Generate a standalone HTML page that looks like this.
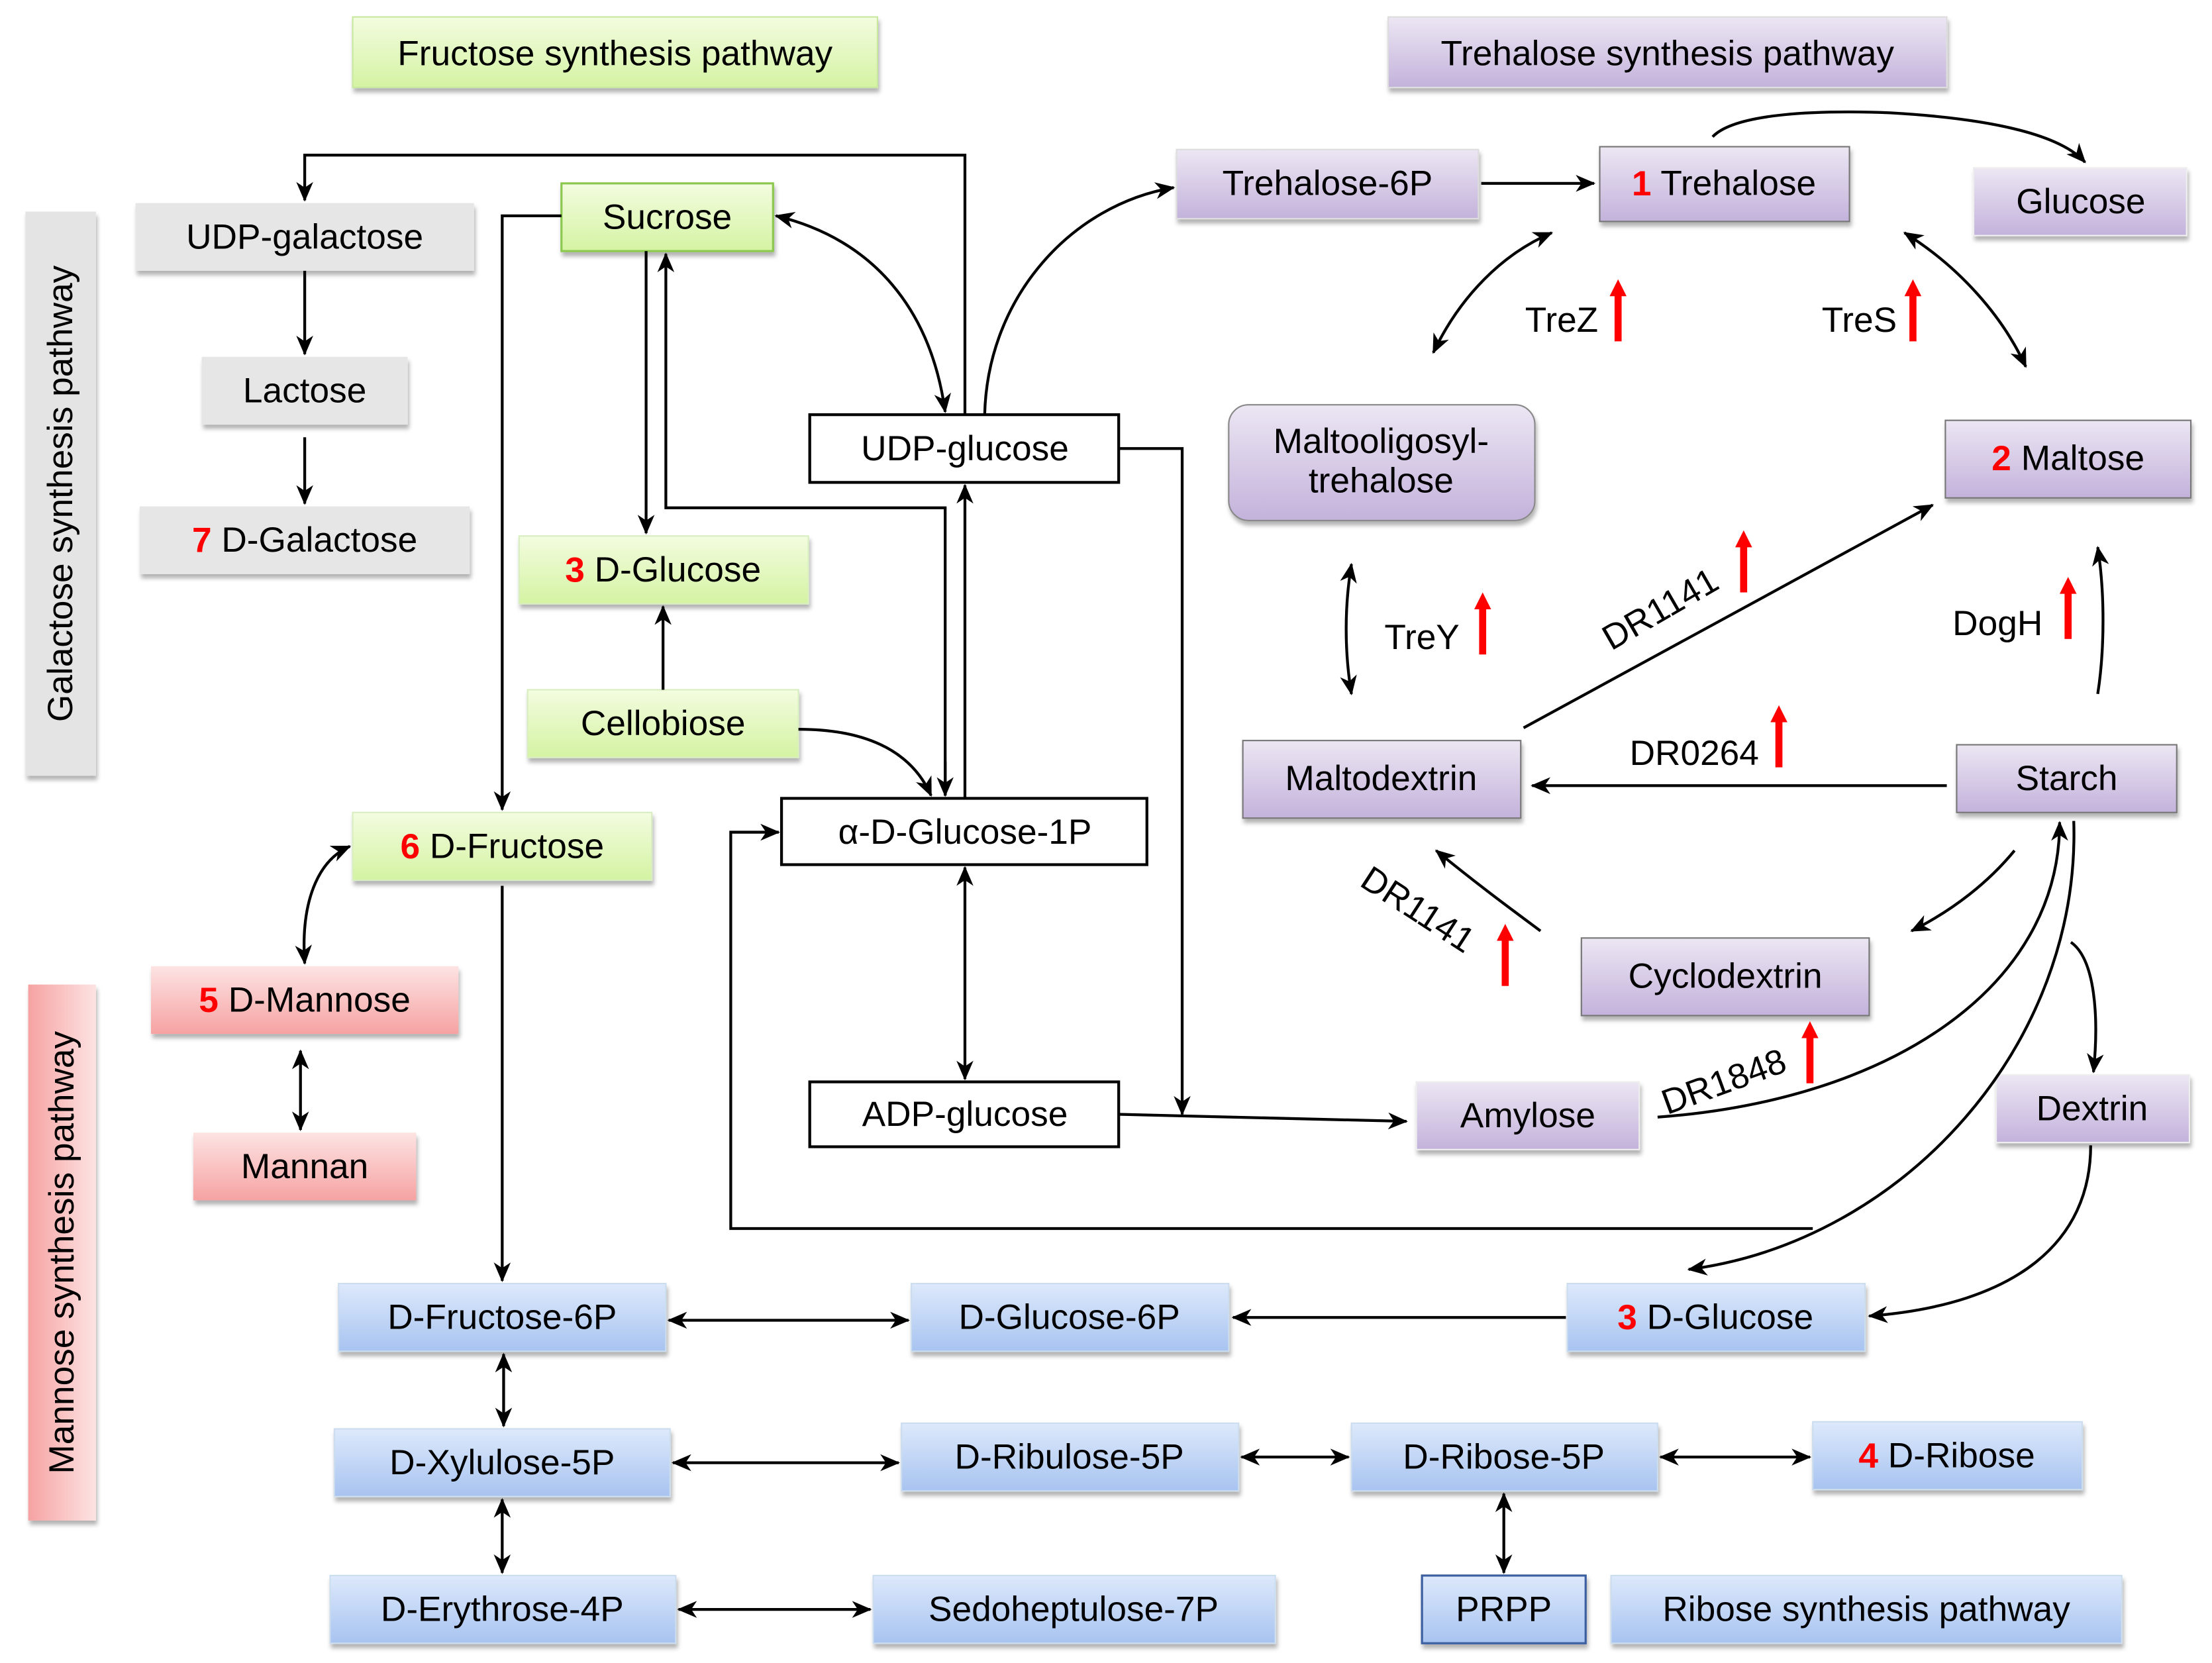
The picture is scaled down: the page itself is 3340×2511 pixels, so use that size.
<!DOCTYPE html>
<html><head><meta charset="utf-8"><style>
html,body{margin:0;padding:0;background:#fff}
svg{display:block}
text{font-family:"Liberation Sans Narrow","Liberation Sans",sans-serif;font-size:25px;fill:#000}
.r{fill:#f00;font-weight:bold}
.l{stroke:#000;stroke-width:2;fill:none}
</style></head><body>
<svg width="3340" height="2511" viewBox="0 0 1568 1179" preserveAspectRatio="none">
<defs>
<linearGradient id="gG" x1="0" y1="0" x2="0" y2="1"><stop offset="0" stop-color="#f3fce0"/><stop offset="1" stop-color="#d4f3a2"/></linearGradient>
<linearGradient id="gP" x1="0" y1="0" x2="0" y2="1"><stop offset="0" stop-color="#ece6f3"/><stop offset="1" stop-color="#c3b2db"/></linearGradient>
<linearGradient id="gB" x1="0" y1="0" x2="0" y2="1"><stop offset="0" stop-color="#dde9fb"/><stop offset="1" stop-color="#a7c3f0"/></linearGradient>
<linearGradient id="gR" x1="0" y1="0" x2="0" y2="1"><stop offset="0" stop-color="#fde3e3"/><stop offset="1" stop-color="#f6a2a2"/></linearGradient>
<linearGradient id="gRh" x1="0" y1="0" x2="1" y2="0"><stop offset="0" stop-color="#f6a2a2"/><stop offset="1" stop-color="#fde3e3"/></linearGradient>
<marker id="a" viewBox="0 0 14 12" refX="13" refY="6" markerWidth="14" markerHeight="12" markerUnits="userSpaceOnUse" orient="auto-start-reverse"><path d="M0,0 L14,6 L0,12 L4,6 z" fill="#000"/></marker>
<filter id="sh" x="-5%" y="-10%" width="115%" height="140%"><feDropShadow dx="1" dy="3" stdDeviation="1.5" flood-color="#000" flood-opacity="0.3"/></filter>
<g id="red"><rect x="-2.5" y="-32" width="5" height="34" fill="#f00"/><path d="M-6,-30 L0,-42 L6,-30 z" fill="#f00"/></g>
</defs>

<g filter="url(#sh)">
<rect x="250" y="12" width="372" height="50" fill="url(#gG)" stroke="#c8e8a0"/>
<rect x="984" y="12" width="396" height="50" fill="url(#gP)" stroke="#ddd"/>
<rect x="18" y="150" width="50" height="400" fill="#e4e4e4"/>
<rect x="20" y="698" width="48" height="380" fill="url(#gRh)"/>
</g>
<text x="436" y="38" text-anchor="middle" dominant-baseline="central">Fructose synthesis pathway</text>
<text x="1182" y="38" text-anchor="middle" dominant-baseline="central">Trehalose synthesis pathway</text>
<text transform="translate(43,350) rotate(-90)" text-anchor="middle" dominant-baseline="central">Galactose synthesis pathway</text>
<text transform="translate(44,888) rotate(-90)" text-anchor="middle" dominant-baseline="central">Mannose synthesis pathway</text>

<g filter="url(#sh)">
<rect x="96" y="144" width="240" height="48" fill="#e6e6e6"/>
<rect x="143" y="253" width="146" height="48" fill="#e6e6e6"/>
<rect x="99" y="359" width="234" height="48" fill="#e6e6e6"/>
<rect x="398" y="130" width="150" height="48" fill="url(#gG)" stroke="#8cc850" stroke-width="1.5"/>
<rect x="368" y="380" width="205" height="48" fill="url(#gG)" stroke="#d8eec0"/>
<rect x="374" y="489" width="192" height="48" fill="url(#gG)" stroke="#d8eec0"/>
<rect x="250" y="576" width="212" height="48" fill="url(#gG)" stroke="#d8eec0"/>
<rect x="107" y="685" width="218" height="48" fill="url(#gR)"/>
<rect x="137" y="803" width="158" height="48" fill="url(#gR)"/>
<rect x="834" y="106" width="214" height="49" fill="url(#gP)" stroke="#ddd"/>
<rect x="1134" y="104" width="177" height="53" fill="url(#gP)" stroke="#777"/>
<rect x="1399" y="119" width="151" height="48" fill="url(#gP)" stroke="#eee"/>
<rect x="871" y="287" width="217" height="82" rx="14" fill="url(#gP)" stroke="#888"/>
<rect x="1379" y="298" width="174" height="55" fill="url(#gP)" stroke="#777"/>
<rect x="881" y="525" width="197" height="55" fill="url(#gP)" stroke="#777"/>
<rect x="1387" y="528" width="156" height="48" fill="url(#gP)" stroke="#777"/>
<rect x="1121" y="665" width="204" height="55" fill="url(#gP)" stroke="#777"/>
<rect x="1004" y="767" width="158" height="48" fill="url(#gP)" stroke="#eee"/>
<rect x="1415" y="762" width="137" height="48" fill="url(#gP)" stroke="#eee"/>
<rect x="240" y="910" width="232" height="48" fill="url(#gB)" stroke="#cde"/>
<rect x="646" y="910" width="225" height="48" fill="url(#gB)" stroke="#cde"/>
<rect x="1111" y="910" width="211" height="48" fill="url(#gB)" stroke="#cde"/>
<rect x="237" y="1013" width="238" height="48" fill="url(#gB)" stroke="#cde"/>
<rect x="639" y="1009" width="239" height="48" fill="url(#gB)" stroke="#cde"/>
<rect x="958" y="1009" width="217" height="48" fill="url(#gB)" stroke="#cde"/>
<rect x="1285" y="1008" width="191" height="48" fill="url(#gB)" stroke="#cde"/>
<rect x="234" y="1117" width="245" height="48" fill="url(#gB)" stroke="#cde"/>
<rect x="619" y="1117" width="285" height="48" fill="url(#gB)" stroke="#cde"/>
<rect x="1008" y="1117" width="116" height="48" fill="url(#gB)" stroke="#3a5ea0" stroke-width="1.5"/>
<rect x="1142" y="1117" width="362" height="48" fill="url(#gB)" stroke="#cde"/>
</g>
<g fill="#fff" stroke="#000" stroke-width="2">
<rect x="574" y="294" width="219" height="48"/>
<rect x="554" y="566" width="259" height="47"/>
<rect x="574" y="767" width="219" height="46"/>
</g>

<g text-anchor="middle" dominant-baseline="central">
<text x="216" y="168">UDP-galactose</text>
<text x="216" y="277">Lactose</text>
<text x="216" y="383"><tspan class="r">7</tspan> D-Galactose</text>
<text x="473" y="154">Sucrose</text>
<text x="470" y="404"><tspan class="r">3</tspan> D-Glucose</text>
<text x="470" y="513">Cellobiose</text>
<text x="356" y="600"><tspan class="r">6</tspan> D-Fructose</text>
<text x="216" y="709"><tspan class="r">5</tspan> D-Mannose</text>
<text x="216" y="827">Mannan</text>
<text x="684" y="318">UDP-glucose</text>
<text x="684" y="590">α-D-Glucose-1P</text>
<text x="684" y="790">ADP-glucose</text>
<text x="941" y="130">Trehalose-6P</text>
<text x="1222" y="130"><tspan class="r">1</tspan> Trehalose</text>
<text x="1475" y="143">Glucose</text>
<text x="979" y="313">Maltooligosyl-</text>
<text x="979" y="341">trehalose</text>
<text x="1466" y="325"><tspan class="r">2</tspan> Maltose</text>
<text x="979" y="552">Maltodextrin</text>
<text x="1465" y="552">Starch</text>
<text x="1223" y="692">Cyclodextrin</text>
<text x="1083" y="791">Amylose</text>
<text x="1483" y="786">Dextrin</text>
<text x="356" y="934">D-Fructose-6P</text>
<text x="758" y="934">D-Glucose-6P</text>
<text x="1216" y="934"><tspan class="r">3</tspan> D-Glucose</text>
<text x="356" y="1037">D-Xylulose-5P</text>
<text x="758" y="1033">D-Ribulose-5P</text>
<text x="1066" y="1033">D-Ribose-5P</text>
<text x="1380" y="1032"><tspan class="r">4</tspan> D-Ribose</text>
<text x="356" y="1141">D-Erythrose-4P</text>
<text x="761" y="1141">Sedoheptulose-7P</text>
<text x="1066" y="1141">PRPP</text>
<text x="1323" y="1141">Ribose synthesis pathway</text>
</g>

<g class="l">
<path d="M684,294 V110 H216 V142" marker-end="url(#a)"/>
<path d="M216,192 V251" marker-end="url(#a)"/>
<path d="M216,310 V357" marker-end="url(#a)"/>
<path d="M398,153 H356 V574" marker-end="url(#a)"/>
<path d="M458,178 V378" marker-end="url(#a)"/>
<path d="M670,564 V360 H472 V180" marker-end="url(#a)"/>
<path d="M670,540 V564" marker-end="url(#a)"/>
<path d="M684,566 V344" marker-end="url(#a)"/>
<path d="M550,153 C620,170 660,220 670,292" marker-start="url(#a)" marker-end="url(#a)"/>
<path d="M698,294 C700,210 760,145 832,133" marker-end="url(#a)"/>
<path d="M793,318 H838 V790" marker-end="url(#a)"/>
<path d="M470,489 V430" marker-end="url(#a)"/>
<path d="M566,517 C610,517 645,530 660,564" marker-end="url(#a)"/>
<path d="M684,615 V765" marker-start="url(#a)" marker-end="url(#a)"/>
<path d="M793,790 L997,795" marker-end="url(#a)"/>
<path d="M248,600 C225,610 213,640 216,683" marker-start="url(#a)" marker-end="url(#a)"/>
<path d="M213,745 V801" marker-start="url(#a)" marker-end="url(#a)"/>
<path d="M356,628 V908" marker-end="url(#a)"/>
<path d="M1285,871 H518 V590 H552" marker-end="url(#a)"/>
<path d="M1470,582 C1475,740 1350,880 1197,900" marker-end="url(#a)"/>
<path d="M1175,792 C1340,780 1460,700 1460,583" marker-end="url(#a)"/>
<path d="M1428,603 C1410,625 1385,645 1355,660" marker-end="url(#a)"/>
<path d="M1468,668 C1485,680 1488,720 1484,760" marker-end="url(#a)"/>
<path d="M1482,812 C1482,880 1430,925 1325,933" marker-end="url(#a)"/>
<path d="M1092,660 C1065,640 1045,625 1018,603" marker-end="url(#a)"/>
<path d="M1380,557 H1086" marker-end="url(#a)"/>
<path d="M1487,492 C1492,460 1492,420 1487,388" marker-end="url(#a)"/>
<path d="M1080,516 L1370,358" marker-end="url(#a)"/>
<path d="M958,400 C953,430 953,462 958,492" marker-start="url(#a)" marker-end="url(#a)"/>
<path d="M1016,250 C1035,210 1065,180 1100,165" marker-start="url(#a)" marker-end="url(#a)"/>
<path d="M1350,165 C1390,190 1420,225 1436,260" marker-start="url(#a)" marker-end="url(#a)"/>
<path d="M1050,130 H1130" marker-end="url(#a)"/>
<path d="M1214,97 C1230,80 1290,78 1340,80 C1410,84 1460,95 1478,115" marker-end="url(#a)"/>
<path d="M1110,934 H874" marker-end="url(#a)"/>
<path d="M474,936 H644" marker-start="url(#a)" marker-end="url(#a)"/>
<path d="M357,960 V1011" marker-start="url(#a)" marker-end="url(#a)"/>
<path d="M477,1037 H637" marker-start="url(#a)" marker-end="url(#a)"/>
<path d="M880,1033 H956" marker-start="url(#a)" marker-end="url(#a)"/>
<path d="M1177,1033 H1283" marker-start="url(#a)" marker-end="url(#a)"/>
<path d="M1066,1059 V1115" marker-start="url(#a)" marker-end="url(#a)"/>
<path d="M356,1063 V1115" marker-start="url(#a)" marker-end="url(#a)"/>
<path d="M481,1141 H617" marker-start="url(#a)" marker-end="url(#a)"/>
</g>

<text x="1107" y="227" text-anchor="middle" dominant-baseline="central">TreZ</text>
<text x="1318" y="227" text-anchor="middle" dominant-baseline="central">TreS</text>
<text x="1008" y="452" text-anchor="middle" dominant-baseline="central">TreY</text>
<text x="1416" y="442" text-anchor="middle" dominant-baseline="central">DogH</text>
<text x="1201" y="534" text-anchor="middle" dominant-baseline="central">DR0264</text>
<text transform="translate(1177,432) rotate(-30)" text-anchor="middle" dominant-baseline="central">DR1141</text>
<text transform="translate(1005,645) rotate(33)" text-anchor="middle" dominant-baseline="central">DR1141</text>
<text transform="translate(1222,767) rotate(-20)" text-anchor="middle" dominant-baseline="central">DR1848</text>
<use href="#red" x="1147" y="240"/>
<use href="#red" x="1356" y="240"/>
<use href="#red" x="1051" y="462"/>
<use href="#red" x="1236" y="418"/>
<use href="#red" x="1466" y="451"/>
<use href="#red" x="1261" y="542"/>
<use href="#red" x="1067" y="697"/>
<use href="#red" x="1283" y="766"/>
</svg>
</body></html>
